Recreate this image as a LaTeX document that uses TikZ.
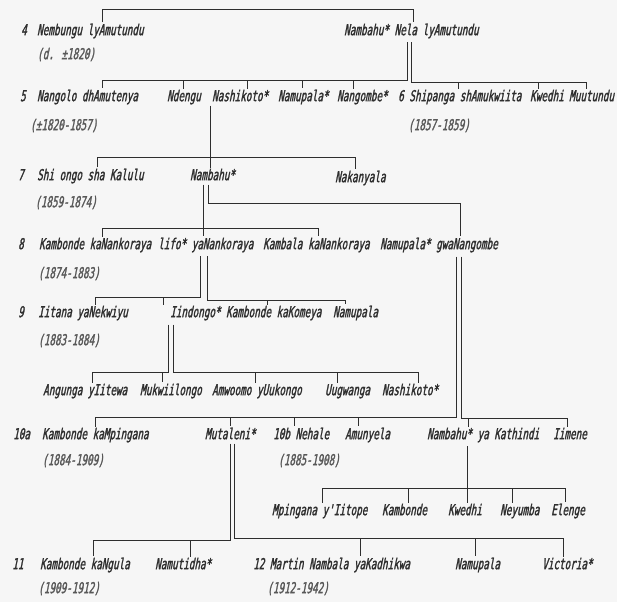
\documentclass[tikz,border=0pt]{standalone}
\usepackage{fontspec}
\newfontfamily\gfont{DejaVu Sans Mono}[FakeStretch=0.62,FakeSlant=0.2,FakeBold=1.6]
\definecolor{ink}{HTML}{2E2E2E}
\definecolor{paper}{HTML}{F6F6F6}
\begin{document}
\begin{tikzpicture}[x=1pt,y=-1pt,
  nm/.style={font=\gfont\fontsize{15}{17}\selectfont, text=ink, inner sep=1pt, anchor=mid west},
  dt/.style={nm, text=ink!80},
  ln/.style={draw=ink, line width=1pt},
  sg/.style={ln, shorten <=3pt}]
\fill[paper] (0,0) rectangle (617,602);
\useasboundingbox (0,0) rectangle (617,602);

% ---- generation 4
\node[nm] (n4) at (20,33) {4};
\node[nm] (nemb) at (36,33) {Nembungu lyAmutundu};
\node[dt] (d4) at (36,57) {(d. ±1820)};
\node[nm] (nela) at (343,33) {Nambahu* Nela lyAmutundu};

% ---- generation 5/6
\node[nm] (n5) at (19,99) {5};
\node[nm] (nangolo) at (36,99) {Nangolo dhAmutenya};
\node[dt] (d5) at (29,128) {(±1820-1857)};
\node[nm] (ndengu) at (166,99) {Ndengu};
\node[nm] (nashik5) at (211,99) {Nashikoto*};
\node[nm] (namup5) at (277,99) {Namupala*};
\node[nm] (nangombe) at (336,99) {Nangombe*};
\node[nm] (shipanga) at (397,99) {6 Shipanga shAmukwiita};
\node[dt] (d6) at (407,128) {(1857-1859)};
\node[nm] (kwedhi5) at (529,99) {Kwedhi};
\node[nm] (muutundu) at (568,99) {Muutundu};

% ---- generation 7
\node[nm] (n7) at (17,178) {7};
\node[nm] (shiongo) at (36,178) {Shi ongo sha Kalulu};
\node[dt] (d7) at (34,205) {(1859-1874)};
\node[nm] (nambahu7) at (189,178) {Nambahu*};
\node[nm] (nakanyala) at (334,180) {Nakanyala};

% ---- generation 8
\node[nm] (n8) at (17,247) {8};
\node[nm] (kambonde8) at (38,247) {Kambonde kaNankoraya};
\node[dt] (d8) at (37,276) {(1874-1883)};
\node[nm] (lifo) at (157,247) {lifo* yaNankoraya};
\node[nm] (kambala) at (262,247) {Kambala kaNankoraya};
\node[nm] (namup8) at (379,247) {Namupala* gwaNangombe};

% ---- generation 9
\node[nm] (n9) at (17,315) {9};
\node[nm] (iitana) at (37,315) {Iitana yaNekwiyu};
\node[dt] (d9) at (37,343) {(1883-1884)};
\node[nm] (iindongo) at (169,315) {Iindongo*};
\node[nm] (kambonde9) at (225,315) {Kambonde kaKomeya};
\node[nm] (namup9) at (332,315) {Namupala};

% ---- children of Iindongo
\node[nm] (angunga) at (42,393) {Angunga yIitewa};
\node[nm] (mukwii) at (139,393) {Mukwiilongo};
\node[nm] (amwoomo) at (211,393) {Amwoomo yUukongo};
\node[nm] (uugwanga) at (324,393) {Uugwanga};
\node[nm] (nashikA) at (381,393) {Nashikoto*};

% ---- generation 10
\node[nm] (n10a) at (12,437) {10a};
\node[nm] (kambonde10) at (41,437) {Kambonde kaMpingana};
\node[dt] (d10a) at (41,463) {(1884-1909)};
\node[nm] (mutaleni) at (204,437) {Mutaleni*};
\node[nm] (nehale) at (272,437) {10b Nehale};
\node[dt] (d10b) at (277,463) {(1885-1908)};
\node[nm] (amunyela) at (344,437) {Amunyela};
\node[nm] (nambahu10) at (426,437) {Nambahu* ya Kathindi};
\node[nm] (iimene) at (552,437) {Iimene};

% ---- children of Nambahu ya Kathindi
\node[nm] (mpingana) at (271,513) {Mpingana y'Iitope};
\node[nm] (kambondeM) at (381,513) {Kambonde};
\node[nm] (kwedhiM) at (447,513) {Kwedhi};
\node[nm] (neyumba) at (499,513) {Neyumba};
\node[nm] (elenge) at (550,513) {Elenge};

% ---- generation 11/12
\node[nm] (n11) at (11,567) {11};
\node[nm] (kambonde11) at (39,567) {Kambonde kaNgula};
\node[dt] (d11) at (37,591) {(1909-1912)};
\node[nm] (namutidha) at (154,567) {Namutidha*};
\node[nm] (martin) at (252,567) {12 Martin Nambala yaKadhikwa};
\node[dt] (d12) at (266,591) {(1912-1942)};
\node[nm] (namup11) at (454,567) {Namupala};
\node[nm] (victoria) at (541,567) {Victoria*};

% ================= connectors
% couple of generation 4
\draw[ln] (102,0 |- nemb.north) -- (102,10) -- (413,10) -- (413,0 |- nela.north);

% children of Nambahu Nela
\draw[sg] (407,0 |- nela.south) -- (407,80) -- (102,80) -- (102,80 |- nangolo.north);
\foreach \x/\n in {183/ndengu,247/nashik5,302/namup5,353/nangombe}
  \draw[ln] (\x,80) -- (\x,80 |- \n.north);
\draw[sg] (411,0 |- nela.south) -- (411,82) -- (586,82) -- (586,82 |- muutundu.north);
\foreach \x/\n in {458/shipanga,538/kwedhi5}
  \draw[ln] (\x,82) -- (\x,82 |- \n.north);

% children of Nashikoto
\draw[sg] (210,0 |- nashik5.south) -- (210,0 |- nambahu7.north);
\draw[ln] (97,0 |- shiongo.north) -- (97,157) -- (355,157) -- (355,0 |- nakanyala.north);

% children of Nambahu (7)
\draw[sg] (203,0 |- nambahu7.south) -- (203,0 |- lifo.north);
\draw[ln] (102,0 |- kambonde8.north) -- (102,228) -- (318,228) -- (318,0 |- kambala.north);
\draw[sg] (208,0 |- nambahu7.south) -- (208,203) -- (460,203) -- (460,0 |- namup8.north);

% children of lifo
\draw[sg] (200,0 |- lifo.south) -- (200,297) -- (95,297) -- (95,297 |- iitana.north);
\draw[ln] (163,297) -- (163,297 |- iindongo.north);
\draw[sg] (207,0 |- lifo.south) -- (207,300) -- (345,300) -- (345,300 |- namup9.north);
\draw[ln] (267,300) -- (267,300 |- kambonde9.north);

% children of Iindongo
\draw[sg] (168,0 |- iindongo.south) -- (168,372) -- (92,372) -- (92,372 |- angunga.north);
\draw[ln] (162,372) -- (162,372 |- mukwii.north);
\draw[sg] (173,0 |- iindongo.south) -- (173,372) -- (418,372) -- (418,372 |- nashikA.north);
\foreach \x/\n in {255/amwoomo,337/uugwanga}
  \draw[ln] (\x,372) -- (\x,372 |- \n.north);

% children of Namupala gwaNangombe
\draw[sg] (456,0 |- namup8.south) -- (456,417) -- (95,417) -- (95,417 |- kambonde10.north);
\foreach \x/\n in {230/mutaleni,294/nehale,358/amunyela}
  \draw[ln] (\x,417) -- (\x,417 |- \n.north);
\draw[sg] (461,0 |- namup8.south) -- (461,418) -- (567,418) -- (567,418 |- iimene.north);
\draw[ln] (468,418) -- (468,418 |- nambahu10.north);

% children of Nambahu ya Kathindi
\draw[sg] (467,0 |- nambahu10.south) -- (467,0 |- kwedhiM.north);
\draw[ln] (322,0 |- mpingana.north) -- (322,488) -- (565,488) -- (565,0 |- elenge.north);
\foreach \x/\n in {408/kambondeM,512/neyumba}
  \draw[ln] (\x,488) -- (\x,488 |- \n.north);

% children of Mutaleni
\draw[sg] (230,0 |- mutaleni.south) -- (230,540) -- (93,540) -- (93,540 |- kambonde11.north);
\draw[ln] (190,540) -- (190,540 |- namutidha.north);
\draw[sg] (234,0 |- mutaleni.south) -- (234,538) -- (563,538) -- (563,538 |- victoria.north);
\foreach \x/\n in {360/martin,475/namup11}
  \draw[ln] (\x,538) -- (\x,538 |- \n.north);
\end{tikzpicture}
\end{document}
